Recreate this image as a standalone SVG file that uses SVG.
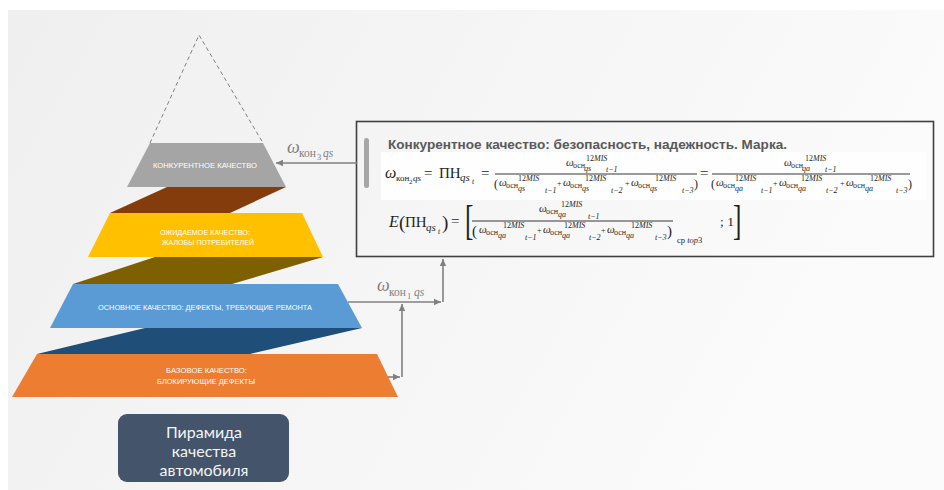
<svg xmlns="http://www.w3.org/2000/svg" width="944" height="490" viewBox="0 0 944 490">
<defs>
<linearGradient id="bg" x1="0" y1="0" x2="1" y2="0.3">
<stop offset="0" stop-color="#efefef"/>
<stop offset="1" stop-color="#fbfbfb"/>
</linearGradient>
<marker id="ah" markerWidth="8" markerHeight="8" refX="7" refY="4" orient="auto" markerUnits="userSpaceOnUse">
<path d="M0,0.8 L7,4 L0,7.2 z" fill="#808080"/>
</marker>
<style>
.lbl{font-family:"Liberation Sans",Arial,sans-serif;font-size:7.8px;fill:#ffffff;text-anchor:middle}
.m{font-family:"Liberation Serif","Times New Roman",serif;fill:#1f1f1f}
.i{font-style:italic}
.s{font-size:8px}
.w{font-size:11px;font-style:italic}
.con{stroke:#808080;stroke-width:1.6;fill:none}
.g{font-family:"Liberation Serif",serif;fill:#7f7f7f}
</style>
</defs>
<rect width="944" height="490" fill="#ffffff"/>
<rect x="8" y="10" width="936" height="480" fill="url(#bg)"/>

<g id="apex">
<path d="M150,143 L199,35 L263,143" fill="none" stroke="#808080" stroke-width="1" stroke-dasharray="4,3"/>
</g>

<g id="ribbons">
<polygon points="167,187 286,187 230,213 110,213" fill="#843c0c"/>
<polygon points="155,257 323,257 232,284 73,284" fill="#7f6000"/>
<polygon points="145,328 362,328 250,354 37,354" fill="#1f4e79"/>
</g>

<g id="layer-competitive">
<polygon points="150,143 263,143 286,187 127,187" fill="#a5a5a5"/>
<text class="lbl" x="205" y="168" textLength="104" lengthAdjust="spacingAndGlyphs">КОНКУРЕНТНОЕ КАЧЕСТВО</text>
</g>

<g id="layer-expected">
<polygon points="110,213 302,213 323,257 88,257" fill="#ffc000"/>
<text class="lbl" x="205" y="234.5" textLength="90" lengthAdjust="spacingAndGlyphs">ОЖИДАЕМОЕ КАЧЕСТВО:</text>
<text class="lbl" x="208" y="244.5" textLength="92" lengthAdjust="spacingAndGlyphs">ЖАЛОБЫ ПОТРЕБИТЕЛЕЙ</text>
</g>

<g id="layer-basic">
<polygon points="73,284 338,284 362,328 50,328" fill="#5b9bd5"/>
<text class="lbl" x="205" y="309.5" textLength="214" lengthAdjust="spacingAndGlyphs">ОСНОВНОЕ КАЧЕСТВО: ДЕФЕКТЫ, ТРЕБУЮЩИЕ РЕМОНТА</text>
</g>

<g id="layer-base">
<polygon points="37,354 377,354 398,397 12,397" fill="#ed7d31"/>
<text class="lbl" x="206.5" y="373" textLength="81" lengthAdjust="spacingAndGlyphs">БАЗОВОЕ КАЧЕСТВО:</text>
<text class="lbl" x="206" y="384" textLength="98" lengthAdjust="spacingAndGlyphs">БЛОКИРУЮЩИЕ ДЕФЕКТЫ</text>
</g>

<g id="title">
<rect x="118" y="414" width="171" height="68" rx="9" fill="#44546a"/>
<g font-family="Lato,'Open Sans',sans-serif" font-size="16" fill="#f4f4f4" text-anchor="middle">
<text x="204" y="438">Пирамида</text>
<text x="204" y="457">качества</text>
<text x="204" y="476">автомобиля</text>
</g>
</g>

<g id="formula-box">
<rect x="356.5" y="121.5" width="577" height="135" fill="none" stroke="#404040" stroke-width="1.6"/>
<rect x="364" y="138" width="5" height="50" rx="2.5" fill="#a6a6a6"/>
<text x="388" y="149" font-family="'Liberation Sans',Arial,sans-serif" font-weight="bold" font-size="13.5" fill="#595959" textLength="399" lengthAdjust="spacingAndGlyphs">Конкурентное качество: безопасность, надежность. Марка.</text>
<rect x="381" y="152" width="545" height="48" fill="#fefefe"/>

<!-- line 1 -->
<text class="m i" x="385" y="178" font-size="16">ω</text>
<text class="m" x="396" y="181" font-size="9">кон</text>
<text class="m" x="409" y="183.5" font-size="7">2</text>
<text class="m i" x="413" y="181" font-size="9">qs</text>
<text class="m" x="424" y="178" font-size="15">=</text>
<text class="m" x="439" y="178" font-size="15">ПН</text>
<text class="m i" x="460" y="181" font-size="11">qs</text>
<text class="m i" x="472" y="184" font-size="7.5">t</text>
<text class="m" x="481" y="178" font-size="15">=</text>

<!-- fraction 1 -->
<line x1="495" y1="174" x2="697" y2="174" stroke="#1f1f1f" stroke-width="0.9"/>
<text class="m w" x="566" y="166">ω</text>
<text class="m s" x="573" y="168">осн</text>
<text class="m s i" x="584" y="171">qs</text>
<text class="m s" x="586" y="161">12<tspan font-style="italic">MIS</tspan></text>
<text class="m s i" x="606" y="172">t−1</text>

<text class="m" x="494" y="188" font-size="12">(</text>
<text class="m w" x="499" y="186">ω</text>
<text class="m s" x="506" y="188">осн</text>
<text class="m s i" x="518" y="191">qs</text>
<text class="m s" x="518" y="181">12<tspan font-style="italic">MIS</tspan></text>
<text class="m s i" x="545" y="193">t−1</text>
<text class="m s" x="557" y="186">+</text>
<text class="m w" x="563" y="186">ω</text>
<text class="m s" x="570" y="188">осн</text>
<text class="m s i" x="582" y="191">qs</text>
<text class="m s" x="585" y="181">12<tspan font-style="italic">MIS</tspan></text>
<text class="m s i" x="611" y="193">t−2</text>
<text class="m s" x="625" y="186">+</text>
<text class="m w" x="631" y="186">ω</text>
<text class="m s" x="638" y="188">осн</text>
<text class="m s i" x="650" y="191">qs</text>
<text class="m s" x="655" y="181">12<tspan font-style="italic">MIS</tspan></text>
<text class="m s i" x="682" y="193">t−3</text>
<text class="m" x="694" y="188" font-size="12">)</text>

<text class="m" x="700" y="178" font-size="15">=</text>

<!-- fraction 2 -->
<line x1="712" y1="174" x2="910" y2="174" stroke="#1f1f1f" stroke-width="0.9"/>
<text class="m w" x="784" y="166">ω</text>
<text class="m s" x="791" y="168">осн</text>
<text class="m s i" x="802" y="171">qa</text>
<text class="m s" x="805" y="161">12<tspan font-style="italic">MIS</tspan></text>
<text class="m s i" x="825" y="172">t−1</text>

<text class="m" x="711" y="188" font-size="12">(</text>
<text class="m w" x="716" y="186">ω</text>
<text class="m s" x="723" y="188">осн</text>
<text class="m s i" x="735" y="191">qa</text>
<text class="m s" x="735" y="181">12<tspan font-style="italic">MIS</tspan></text>
<text class="m s i" x="761" y="193">t−1</text>
<text class="m s" x="773" y="186">+</text>
<text class="m w" x="779" y="186">ω</text>
<text class="m s" x="786" y="188">осн</text>
<text class="m s i" x="798" y="191">qa</text>
<text class="m s" x="801" y="181">12<tspan font-style="italic">MIS</tspan></text>
<text class="m s i" x="826" y="193">t−2</text>
<text class="m s" x="840" y="186">+</text>
<text class="m w" x="846" y="186">ω</text>
<text class="m s" x="853" y="188">осн</text>
<text class="m s i" x="865" y="191">qa</text>
<text class="m s" x="870" y="181">12<tspan font-style="italic">MIS</tspan></text>
<text class="m s i" x="896" y="193">t−3</text>
<text class="m" x="908" y="188" font-size="12">)</text>

<!-- line 2 -->
<text class="m i" x="389" y="227" font-size="16">E</text>
<text class="m" x="399" y="229" font-size="19">(</text>
<text class="m" x="405" y="227" font-size="15">ПН</text>
<text class="m i" x="426" y="231" font-size="11">qs</text>
<text class="m i" x="438" y="234" font-size="7.5">t</text>
<text class="m" x="442" y="229" font-size="19">)</text>
<text class="m" x="451" y="226" font-size="15">=</text>
<text class="m" transform="translate(465,234) scale(0.6,1)" font-size="42">[</text>

<line x1="472" y1="221" x2="673" y2="221" stroke="#1f1f1f" stroke-width="0.9"/>
<text class="m w" x="539" y="212">ω</text>
<text class="m s" x="546" y="214">осн</text>
<text class="m s i" x="558" y="217">qa</text>
<text class="m s" x="561" y="207">12<tspan font-style="italic">MIS</tspan></text>
<text class="m s i" x="588" y="219">t−1</text>

<text class="m" x="472" y="236" font-size="15">(</text>
<text class="m w" x="479" y="233">ω</text>
<text class="m s" x="486" y="235">осн</text>
<text class="m s i" x="498" y="238">qa</text>
<text class="m s" x="503" y="228">12<tspan font-style="italic">MIS</tspan></text>
<text class="m s i" x="525" y="240">t−1</text>
<text class="m s" x="537" y="233">+</text>
<text class="m w" x="543" y="233">ω</text>
<text class="m s" x="550" y="235">осн</text>
<text class="m s i" x="562" y="238">qa</text>
<text class="m s" x="564" y="228">12<tspan font-style="italic">MIS</tspan></text>
<text class="m s i" x="589" y="240">t−2</text>
<text class="m s" x="601" y="233">+</text>
<text class="m w" x="607" y="233">ω</text>
<text class="m s" x="614" y="235">осн</text>
<text class="m s i" x="626" y="238">qa</text>
<text class="m s" x="631" y="228">12<tspan font-style="italic">MIS</tspan></text>
<text class="m s i" x="655" y="240">t−3</text>
<text class="m" x="667" y="236" font-size="15">)</text>
<text class="m" x="677" y="243" font-size="8.5">ср <tspan font-style="italic">top</tspan>3</text>
<text class="m" x="720" y="226" font-size="13.5">; 1</text>
<text class="m" transform="translate(733,234) scale(0.6,1)" font-size="42">]</text>
</g>

<g id="connectors">
<line class="con" x1="357" y1="163" x2="276" y2="163" marker-end="url(#ah)"/>
<line class="con" x1="348" y1="302" x2="441" y2="302" marker-end="url(#ah)"/>
<line class="con" x1="443" y1="302" x2="443" y2="259" marker-end="url(#ah)"/>
<line class="con" x1="388" y1="377" x2="400" y2="377" marker-end="url(#ah)"/>
<line class="con" x1="402" y1="377" x2="402" y2="304" marker-end="url(#ah)"/>
<g id="label-kon3">
<text class="g i" x="287" y="153" font-size="18">ω</text>
<text class="g" x="299" y="157" font-size="11.5">кон</text>
<text class="g" x="317" y="160" font-size="8.5">3</text>
<text class="g i" x="323" y="157" font-size="11.5">qs</text>
</g>
<g id="label-kon1">
<text class="g i" x="377" y="291" font-size="18">ω</text>
<text class="g" x="389" y="296" font-size="11.5">кон</text>
<text class="g" x="407" y="299" font-size="8.5">1</text>
<text class="g i" x="414" y="296" font-size="11.5">qs</text>
</g>
</g>
</svg>
